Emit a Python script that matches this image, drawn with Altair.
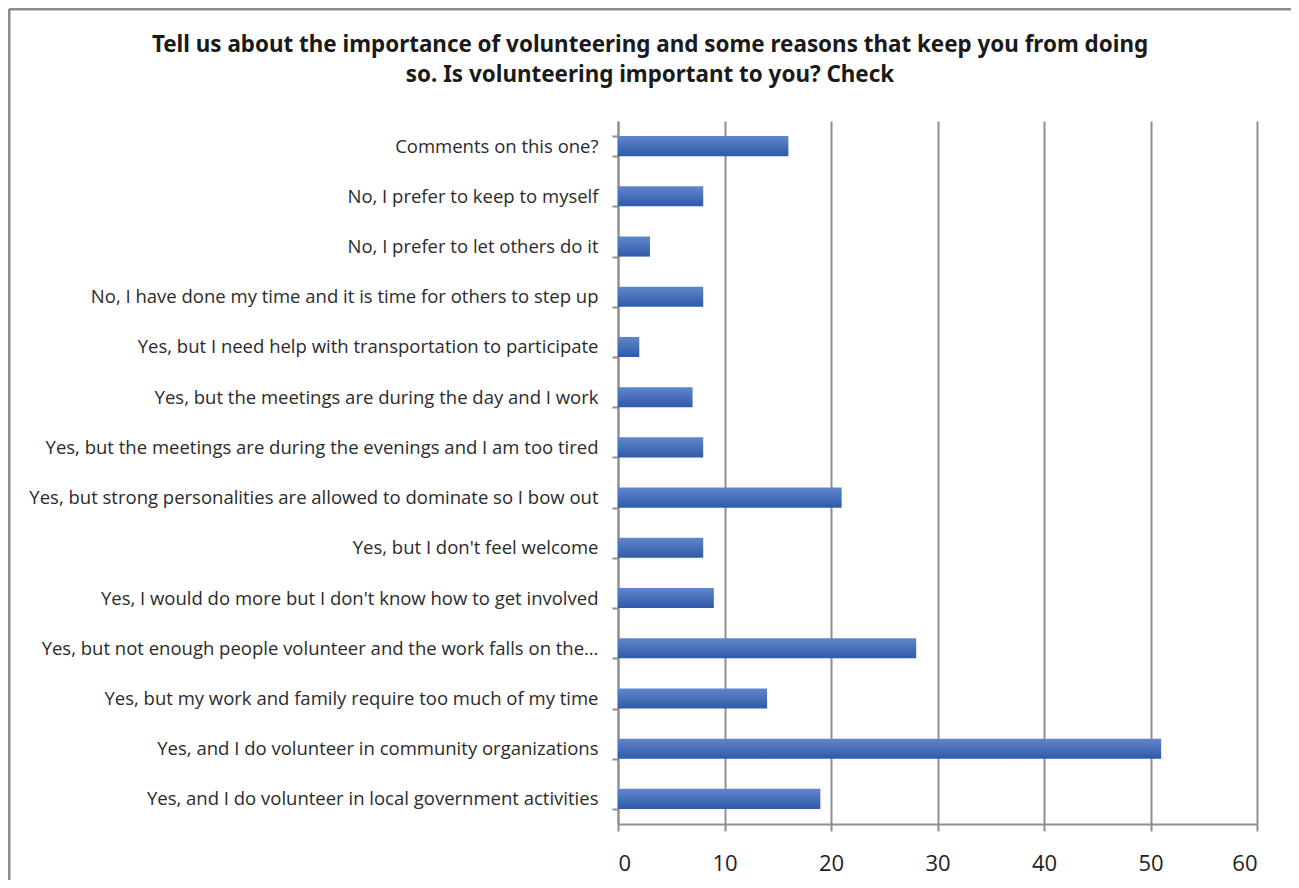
import altair as alt
import pandas as pd

categories = [
    "Comments on this one?",
    "No, I prefer to keep to myself",
    "No, I prefer to let others do it",
    "No, I have done my time and it is time for others to step up",
    "Yes, but I need help with transportation to participate",
    "Yes, but the meetings are during the day and I work",
    "Yes, but the meetings are during the evenings and I am too tired",
    "Yes, but strong personalities are allowed to dominate so I bow out",
    "Yes, but I don't feel welcome",
    "Yes, I would do more but I don't know how to get involved",
    "Yes, but not enough people volunteer and the work falls on the\u2026",
    "Yes, but my work and family require too much of my time",
    "Yes, and I do volunteer in community organizations",
    "Yes, and I do volunteer in local government activities",
]
values = [16, 8, 3, 8, 2, 7, 8, 21, 8, 9, 28, 14, 51, 19]
x_ticks = [0, 10, 20, 30, 40, 50, 60]
title_lines = [
    "Tell us about the importance of volunteering and some reasons that keep you from doing",
    "so. Is volunteering important to you? Check",
]

df = pd.DataFrame({"category": categories, "value": values})
one = pd.DataFrame({"line1": [title_lines[0]], "line2": [title_lines[1]]})

FONT = "Open Sans"
TFONT = "Noto Sans"
GRAY = "#8f8f8f"

bar_fill = alt.Gradient(
    gradient="linear",
    stops=[alt.GradientStop(color="#6186cb", offset=0),
           alt.GradientStop(color="#2e5aa9", offset=1)],
    x1=0, x2=0, y1=0, y2=1,
)

bars = alt.Chart(df).mark_bar(color=bar_fill).encode(
    x=alt.X("value:Q",
            scale=alt.Scale(domain=[0, 60], nice=False),
            axis=alt.Axis(values=x_ticks, title=None, grid=True, gridColor=GRAY,
                          gridWidth=2, domainColor=GRAY, domainWidth=2,
                          tickColor=GRAY, tickWidth=2, tickSize=7,
                          labelFontSize=22, labelColor="#222222", labelFont=FONT,
                          labelPadding=22)),
    y=alt.Y("category:N", sort=None,
            scale=alt.Scale(paddingInner=0.6, paddingOuter=0.3),
            axis=alt.Axis(title=None, tickBand="extent", domainColor=GRAY,
                          domainWidth=2, tickColor=GRAY, tickWidth=2, tickSize=6,
                          labelFontSize=18.5, labelColor="#2b2b2b", labelFont=FONT,
                          labelPadding=14, labelLimit=700)),
)

top_border = alt.Chart(one).mark_rule(color="#8c8c8c", strokeWidth=3).encode(
    x=alt.value(-609), x2=alt.value(760), y=alt.value(-112)
)
left_border = alt.Chart(one).mark_rule(color="#8c8c8c", strokeWidth=3).encode(
    x=alt.value(-609), y=alt.value(-112), y2=alt.value(800)
)

title1 = alt.Chart(one).mark_text(
    font=TFONT, fontSize=22.4, fontWeight="bold",
    color="#1a1a1a", align="center", baseline="middle"
).encode(text="line1:N", x=alt.value(32), y=alt.value(-76))
title2 = alt.Chart(one).mark_text(
    font=TFONT, fontSize=22.4, fontWeight="bold",
    color="#1a1a1a", align="center", baseline="middle"
).encode(text="line2:N", x=alt.value(32), y=alt.value(-46))

chart = alt.layer(bars, top_border, left_border, title1, title2).properties(
    width=639,
    height=703,
    autosize=alt.AutoSizeParams(type="none"),
    padding={"left": 610, "top": 113, "right": 34, "bottom": 56},
    view=alt.ViewBackground(stroke="transparent"),
).configure_view(stroke="transparent").configure(background="white")

chart.save("out.html", embed_options={"renderer": "svg", "actions": False})
